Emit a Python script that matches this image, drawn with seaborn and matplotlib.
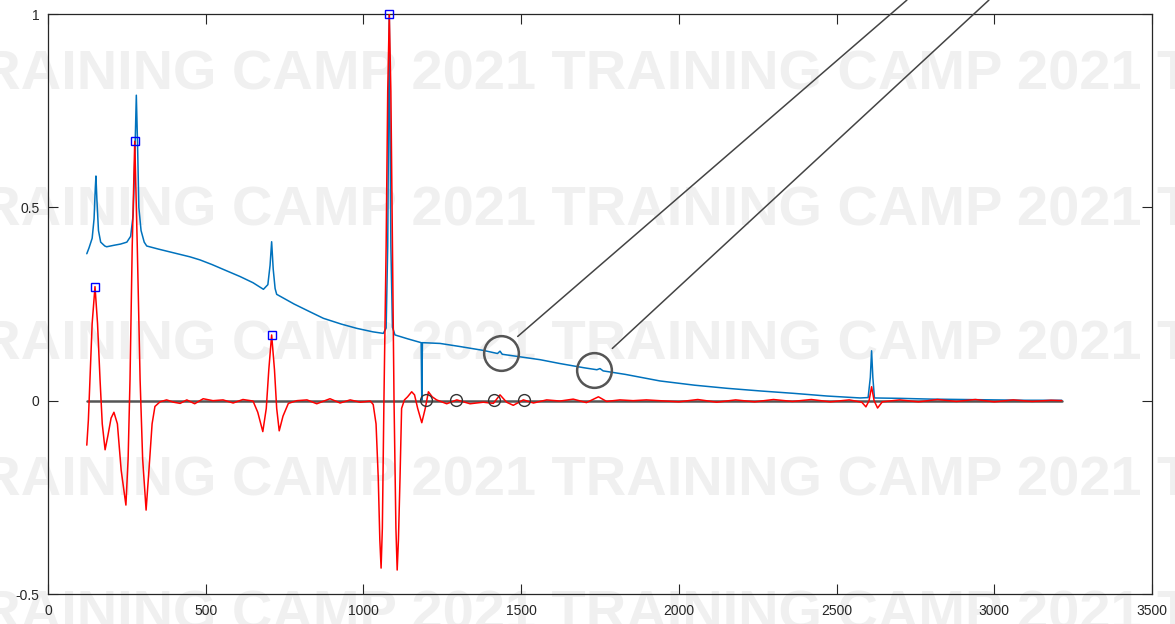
import numpy as np
import pandas as pd
import matplotlib
matplotlib.use("Agg")
import matplotlib.pyplot as plt
import seaborn as sns

# ---------------- data ----------------
spec_x = [123, 130, 140, 146, 150, 152, 155, 160, 167, 180, 186, 210, 230, 250, 262, 270, 275, 280,
          284, 288, 295, 305, 313, 350, 400, 450, 482, 520, 560, 609, 650, 683, 697, 704, 709, 714,
          720, 725, 780, 830, 873, 930, 979, 1030, 1063, 1072, 1077, 1082, 1087, 1092, 1100, 1140,
          1183, 1185, 1187, 1243, 1306, 1380, 1425, 1433, 1440, 1500, 1560, 1623, 1700, 1740, 1750,
          1760, 1830, 1940, 2050, 2152, 2260, 2363, 2470, 2575, 2600, 2607, 2611, 2615, 2620, 2700,
          2800, 2900, 3000, 3100, 3214]
spec_y = [0.380, 0.395, 0.420, 0.470, 0.550, 0.581, 0.520, 0.440, 0.410, 0.400, 0.398, 0.402, 0.405,
          0.410, 0.425, 0.480, 0.620, 0.790, 0.660, 0.500, 0.440, 0.410, 0.400, 0.392, 0.382, 0.372,
          0.364, 0.352, 0.338, 0.321, 0.305, 0.288, 0.300, 0.350, 0.411, 0.340, 0.290, 0.275, 0.250,
          0.230, 0.213, 0.198, 0.187, 0.178, 0.174, 0.188, 0.400, 1.000, 0.400, 0.190, 0.170, 0.160,
          0.150, 0.000, 0.150, 0.148, 0.140, 0.130, 0.122, 0.128, 0.120, 0.113, 0.106, 0.096, 0.085,
          0.080, 0.083, 0.077, 0.068, 0.051, 0.040, 0.032, 0.025, 0.019, 0.012, 0.007, 0.008, 0.060,
          0.129, 0.060, 0.007, 0.006, 0.004, 0.003, 0.002, 0.001, 0.001]

deriv_x = [123, 128, 133, 140, 149, 157, 165, 172, 181, 190, 200, 209, 220, 232, 247, 254, 260, 267,
           275, 283, 292, 300, 311, 320, 330, 339, 355, 376, 398, 419, 440, 465, 492, 523, 555, 587,
           618, 650, 665, 681, 692, 700, 709, 718, 725, 733, 745, 762, 789, 821, 852, 894, 926, 958,
           990, 1022, 1031, 1040, 1047, 1052, 1056, 1060, 1065, 1072, 1077, 1082, 1087, 1092, 1097,
           1103, 1107, 1111, 1116, 1121, 1130, 1140, 1153, 1162, 1172, 1185, 1196, 1206, 1218, 1232,
           1264, 1296, 1338, 1380, 1412, 1433, 1454, 1475, 1507, 1539, 1581, 1623, 1665, 1707, 1745,
           1771, 1813, 1855, 1897, 1940, 2000, 2060, 2120, 2180, 2240, 2300, 2360, 2420, 2480, 2540,
           2580, 2593, 2603, 2611, 2619, 2630, 2645, 2700, 2760, 2820, 2880, 2940, 3000, 3060, 3120,
           3180, 3214]
deriv_y = [-0.115, -0.050, 0.054, 0.200, 0.295, 0.200, 0.054, -0.060, -0.127, -0.090, -0.045, -0.030,
           -0.060, -0.180, -0.270, -0.150, 0.054, 0.400, 0.671, 0.400, 0.054, -0.150, -0.283, -0.180,
           -0.060, -0.015, -0.003, 0.002, -0.004, -0.007, 0.002, -0.008, 0.005, 0.000, 0.002, -0.006,
           0.003, -0.001, -0.030, -0.080, -0.020, 0.080, 0.170, 0.080, -0.020, -0.078, -0.040, -0.007,
           0.000, 0.002, -0.008, 0.005, -0.006, 0.002, -0.004, -0.001, -0.010, -0.060, -0.200, -0.360,
           -0.433, -0.330, 0.000, 0.400, 0.800, 1.000, 0.800, 0.400, 0.000, -0.330, -0.438, -0.360,
           -0.200, -0.020, 0.002, 0.010, 0.023, 0.015, -0.020, -0.057, -0.020, 0.023, 0.010, 0.002,
           -0.008, 0.002, -0.008, -0.004, -0.007, 0.015, -0.004, -0.012, 0.002, -0.006, 0.002, -0.001,
           0.004, -0.005, 0.010, -0.002, 0.002, 0.000, 0.002, 0.000, -0.003, 0.003, -0.004, 0.002,
           -0.003, 0.003, -0.002, 0.003, -0.003, 0.002, -0.004, -0.016, 0.000, 0.036, 0.000, -0.019,
           -0.003, 0.002, -0.003, 0.003, -0.002, 0.003, -0.003, 0.002, -0.002, 0.001, 0.000]

peak_x = [149, 275, 709, 1082]
peak_y = [0.295, 0.671, 0.170, 1.000]

zero_x = [123, 3214]
zero_y = [0.0, 0.0]

small_circle_x = [1198, 1294, 1414, 1509]
small_circle_y = [0.002, 0.002, 0.002, 0.002]

big_circle_x = [1436, 1731]
big_circle_y = [0.124, 0.079]

callout1_x = [1489, 2723]
callout1_y = [0.166, 1.036]
callout2_x = [1789, 2983]
callout2_y = [0.135, 1.036]

x_ticks = [0, 500, 1000, 1500, 2000, 2500, 3000, 3500]
y_ticks = [-0.5, 0, 0.5, 1]
y_ticklabels = ["-0.5", "0", "0.5", "1"]
watermark = "TRAINING CAMP 2021 TRAINING CAMP 2021 TRAINING CAMP 2021"

# ---------------- drawing ----------------
sns.set_theme(style="white")
plt.rcParams["font.family"] = ["Liberation Sans", "DejaVu Sans"]

fig = plt.figure(figsize=(11.75, 6.24), dpi=100, facecolor="white")
ax = fig.add_axes([48 / 1175, 30 / 624, 1104 / 1175, 580 / 624])
ax.patch.set_visible(False)

# watermark behind the axes
for base in [90, 225, 360, 495, 630]:
    fig.text(-54 / 1175, (624 - base) / 624, watermark, fontsize=40.3, fontweight="bold",
             color="#f0f0f0", va="baseline", ha="left", zorder=-5,
             family="Liberation Sans")

spec = pd.DataFrame({"x": spec_x, "y": spec_y})
der = pd.DataFrame({"x": deriv_x, "y": deriv_y})

sns.lineplot(data=spec, x="x", y="y", ax=ax, color="#0072BD", lw=1.1, estimator=None,
             sort=False, zorder=2)
ax.plot(zero_x, zero_y, color="#555555", lw=1.8, zorder=3)
sns.lineplot(data=der, x="x", y="y", ax=ax, color="#ff0000", lw=1.1, estimator=None,
             sort=False, zorder=4)
ax.plot(peak_x, peak_y, ls="none", marker="s", ms=6, mfc="none", mec="#0000ff", mew=1.0,
        zorder=6, clip_on=False)
ax.plot(small_circle_x, small_circle_y, ls="none", marker="o", ms=8.5, mfc="none",
        mec="#333333", mew=1.0, zorder=6)
ax.plot(big_circle_x, big_circle_y, ls="none", marker="o", ms=25, mfc="none",
        mec="#555555", mew=1.8, zorder=6)
ax.plot(callout1_x, callout1_y, color="#444444", lw=1.1, zorder=6, clip_on=False)
ax.plot(callout2_x, callout2_y, color="#444444", lw=1.1, zorder=6, clip_on=False)

ax.set_xlim(0, 3500)
ax.set_ylim(-0.5, 1)
ax.set_xticks(x_ticks)
ax.set_xticklabels([str(t) for t in x_ticks])
ax.set_yticks(y_ticks)
ax.set_yticklabels(y_ticklabels)
ax.set_xlabel("")
ax.set_ylabel("")
ax.tick_params(direction="in", length=7.5, width=0.8, color="#262626", labelcolor="#262626",
               labelsize=10, top=True, right=True, bottom=True, left=True)
ax.tick_params(axis="x", pad=7)
ax.tick_params(axis="y", pad=6)
for s in ax.spines.values():
    s.set_visible(True)
    s.set_color("#262626")
    s.set_linewidth(0.9)

fig.savefig("out.png", dpi=100, facecolor="white")
